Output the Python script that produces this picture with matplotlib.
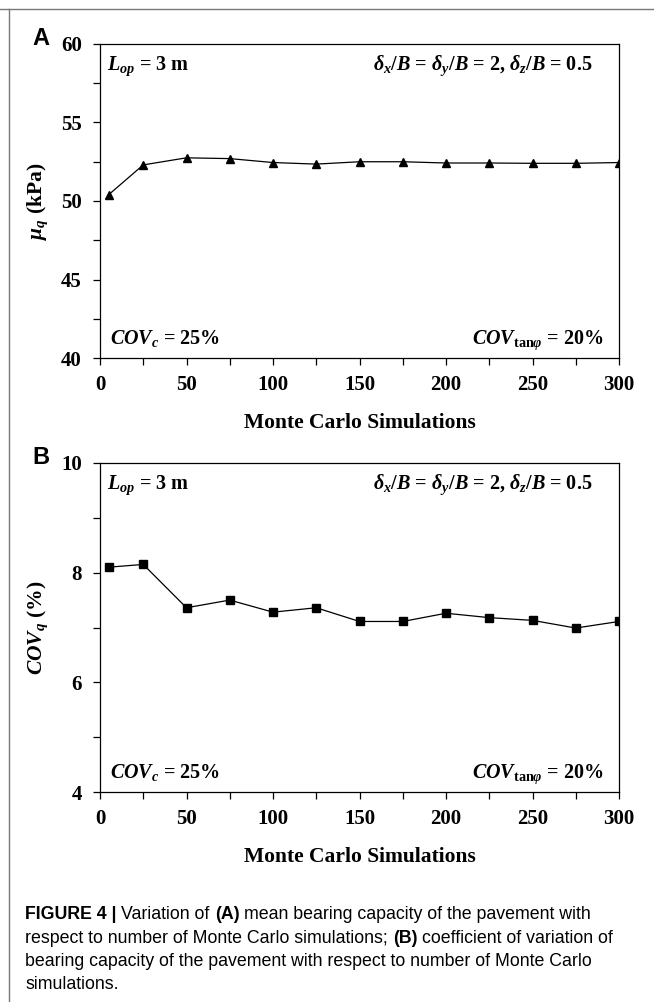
import matplotlib
matplotlib.use('Agg')
import matplotlib.pyplot as plt
from matplotlib.lines import Line2D
from matplotlib.ticker import MultipleLocator

# data
sims = [5, 25, 50, 75, 100, 125, 150, 175, 200, 225, 250, 275, 300]
mean_q = [50.4, 52.3, 52.75, 52.7, 52.45, 52.35, 52.5, 52.5, 52.42, 52.42, 52.4, 52.4, 52.45]
cov_q = [8.1, 8.15, 7.36, 7.5, 7.28, 7.36, 7.11, 7.11, 7.26, 7.18, 7.13, 6.99, 7.11]

caption_lines = [
    [("FIGURE 4 |", "bold"), ("Variation of", "normal"), ("(A)", "bold"),
     ("mean bearing capacity of the pavement with", "normal")],
    [("respect to number of Monte Carlo simulations;", "normal"), ("(B)", "bold"),
     ("coefficient of variation of", "normal")],
    [("bearing capacity of the pavement with respect to number of Monte Carlo", "normal")],
    [("simulations.", "normal")],
]

plt.rcParams['font.family'] = 'Liberation Serif'
plt.rcParams['font.weight'] = 'bold'
plt.rcParams['axes.labelweight'] = 'bold'
plt.rcParams['mathtext.fontset'] = 'custom'
plt.rcParams['mathtext.rm'] = 'Liberation Serif:bold'
plt.rcParams['mathtext.bf'] = 'Liberation Serif:bold'
plt.rcParams['mathtext.it'] = 'Liberation Serif:italic:bold'

W, H = 654, 1002
fig = plt.figure(figsize=(W / 100, H / 100), dpi=100)


def rect(l, t, r, b):
    return [l / W, 1 - b / H, (r - l) / W, (b - t) / H]


def panel(top, bottom, y, ylim, ystep, marker, ylab, letter):
    ax = fig.add_axes(rect(100, top, 619, bottom))
    ax.plot(sims, y, color='black', lw=0.9, marker=marker, ms=6,
            mfc='black', mec='black')
    ax.set_xlim(0, 300)
    ax.set_ylim(*ylim)
    ax.xaxis.set_major_locator(MultipleLocator(50))
    ax.xaxis.set_minor_locator(MultipleLocator(25))
    ax.yaxis.set_major_locator(MultipleLocator(ystep))
    ax.yaxis.set_minor_locator(MultipleLocator(ystep / 2))
    ax.tick_params(which='both', direction='out', length=5, width=0.9,
                   labelsize=15)
    ax.tick_params(axis='x', pad=7)
    ax.tick_params(axis='y', pad=8)
    for s in ax.spines.values():
        s.set_linewidth(0.9)
    ax.set_xlabel('Monte Carlo Simulations', fontsize=15.5, labelpad=13)
    ax.set_ylabel(ylab, fontsize=15.5, labelpad=8)

    h = bottom - top
    ax.text(7 / 519, 1 - 26 / h, r'$L_{op}$ = 3 m',
            transform=ax.transAxes, fontsize=14.5, va='baseline', ha='left')
    ax.text(1 - 27 / 519, 1 - 26 / h,
            r'$\delta_x/B$ = $\delta_y/B$ = 2, $\delta_z/B$ = 0.5',
            transform=ax.transAxes, fontsize=14.5, va='baseline', ha='right')
    ax.text(10 / 519, 14 / h, r'$COV_c$ = 25%',
            transform=ax.transAxes, fontsize=14.5, va='baseline', ha='left')
    ax.text(1 - 15 / 519, 14 / h, r'$COV_{\mathrm{tan}\varphi}$ = 20%',
            transform=ax.transAxes, fontsize=14.5, va='baseline', ha='right')

    fig.text(32 / W, 1 - (top + 1) / H, letter, family='Liberation Sans',
             fontsize=17, fontweight='bold', va='baseline', ha='left')
    return ax


ax_a = panel(44, 358, mean_q, (40, 60), 5, '^', r'$\mu_q$ (kPa)', 'A')
ax_b = panel(463, 792, cov_q, (4, 10), 2, 's', r'$COV_q$ (%)', 'B')

# page frame lines
fig.add_artist(Line2D([0, 1], [1 - 9 / H, 1 - 9 / H], transform=fig.transFigure,
                      color='#777777', lw=1))
fig.add_artist(Line2D([9 / W, 9 / W], [0, 1 - 9 / H], transform=fig.transFigure,
                      color='#777777', lw=1))

# caption with mixed weights
renderer = fig.canvas.get_renderer()
cap_size = 12.8


def text_width(s, w):
    t = fig.text(0, 0, s, fontsize=cap_size, fontweight=w, family='Liberation Sans')
    wd = t.get_window_extent(renderer).width
    t.remove()
    return wd


space = text_width('a a', 'normal') - text_width('aa', 'normal')
baselines = [919, 943, 966, 989]
for pieces, yb in zip(caption_lines, baselines):
    x = 25
    for s, w in pieces:
        t = fig.text(x / W, 1 - yb / H, s, fontsize=cap_size, fontweight=w,
                     family='Liberation Sans', va='baseline', ha='left')
        x += t.get_window_extent(renderer).width + space

fig.savefig('out.png', dpi=100)
